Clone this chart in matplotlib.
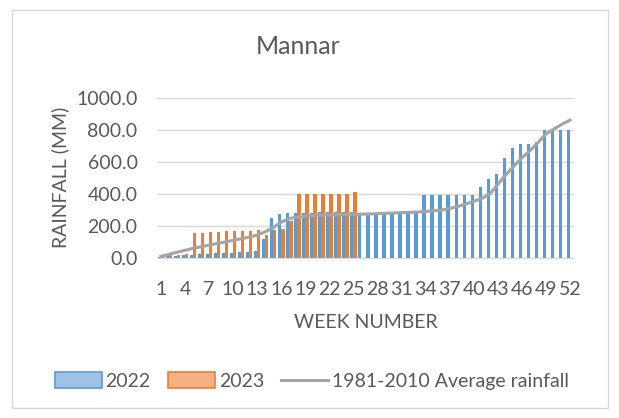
"""
Mannar 逐周降雨量对比图（2022 / 2023 / 1981-2010 平均）
"""
import matplotlib
matplotlib.use("Agg")
import matplotlib.pyplot as plt
import numpy as np
from matplotlib.lines import Line2D
from matplotlib.patches import Patch, Rectangle

plt.rcParams["font.family"] = ["Lato", "DejaVu Sans"]

# ============================================================
#  数据
# ============================================================
weeks = list(range(1, 53))
tick_weeks = list(range(1, 53, 3))

rain_2022 = [10, 12, 15, 18, 22, 25, 28, 30, 32, 35, 38, 40, 45,
             120, 250, 275, 280,
             285, 285, 285, 288, 288, 288, 288, 288,
             285, 285, 285, 288, 290, 290, 290, 290,
             395, 395, 395, 395, 395, 395, 395,
             445, 495, 525, 625, 685, 710, 710, 725, 800, 800, 800, 800]

rain_2023 = [12, 18, 22, 28, 160, 160, 162, 162, 168, 168, 170, 173, 175,
             145, 175, 185, 230,
             400, 400, 400, 400, 400, 400, 400, 415]

avg_rain = [12, 25, 38, 50, 62, 72, 82, 92, 102, 112, 122, 132, 145,
            165, 192, 225, 248, 257, 262, 266, 268, 270, 272, 273, 274,
            275, 276, 278, 280, 282, 284, 286, 288, 292, 296, 300, 310,
            322, 338, 355, 372, 400, 460, 520, 575, 625, 670, 720, 775,
            805, 835, 860]

# ---- 样式 ----
BLUE = "#5B9BD5"
ORANGE = "#ED7D31"
GRAY = "#A5A5A5"
TXT = "#595959"
GRID = "#D9D9D9"
FS = 14

fig = plt.figure(figsize=(6.19, 4.18), dpi=100)
ax = fig.add_axes([157 / 619, 1 - 258.3 / 418, (574 - 157) / 619, (258.3 - 97.7) / 418])

x = np.array(weeks)
x23 = np.arange(1, len(rain_2023) + 1)
w = 0.4
ax.bar(x - 0.2, rain_2022, width=w, color=BLUE, zorder=2)
ax.bar(x23 + 0.2, rain_2023, width=w, color=ORANGE, zorder=2)
ax.plot(x, avg_rain, color=GRAY, linewidth=2.25, zorder=3)

ax.set_xlim(0.5, 52.5)
ax.set_ylim(0, 1000)
ax.set_yticks(np.arange(0, 1001, 200))
ax.set_yticklabels([f"{v:.1f}" for v in np.arange(0, 1001, 200)])
ax.set_xticks(tick_weeks)
ax.set_xticklabels([str(t) for t in tick_weeks])
ax.tick_params(axis="both", length=0, labelsize=FS, colors=TXT)
ax.tick_params(axis="y", pad=14)
ax.tick_params(axis="x", pad=16)
ax.yaxis.grid(True, color=GRID, linewidth=1, zorder=0)
for s in ["top", "right", "left"]:
    ax.spines[s].set_visible(False)
ax.spines["bottom"].set_color(GRID)

ax.set_ylabel("RAINFALL (MM)", fontsize=FS, color=TXT)
ax.yaxis.set_label_coords((69 - 157) / 417, 0.506)
ax.set_xlabel("WEEK NUMBER", fontsize=FS, color=TXT)
ax.xaxis.set_label_coords(0.5, (258.3 - 314) / 160.6)

fig.text(298 / 619, 1 - 47 / 418, "Mannar", fontsize=18, color=TXT,
         ha="center", va="center")

# ---- 图例 ----
handles = [
    Patch(facecolor="#9DC3E6", edgecolor=BLUE, linewidth=1.2),
    Patch(facecolor="#F4B183", edgecolor=ORANGE, linewidth=1.2),
    Line2D([0], [0], color=GRAY, linewidth=2.25),
]
fig.legend(handles, ["2022", "2023", "1981-2010 Average rainfall"],
           loc="center", bbox_to_anchor=(312 / 619, 1 - 381 / 418), ncol=3,
           frameon=False, fontsize=FS, labelcolor=TXT, handlelength=2.4,
           handleheight=0.9, handletextpad=0.2, columnspacing=0.9)

# 外框
fig.patches.append(Rectangle((12 / 619, 1 - 408 / 418), 596 / 619, 398 / 418,
                             transform=fig.transFigure, fill=False,
                             edgecolor=GRID, linewidth=1))

fig.savefig("out.png", dpi=100, facecolor="white")
plt.close(fig)
